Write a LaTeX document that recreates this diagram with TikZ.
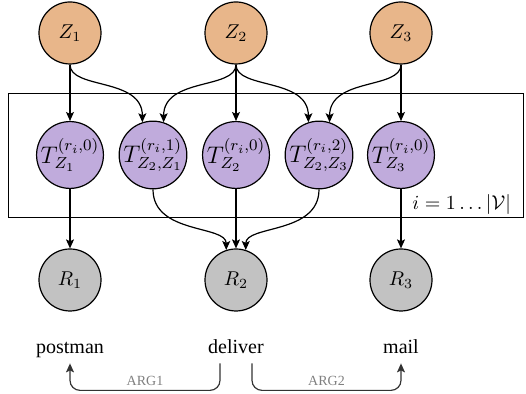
\documentclass[tikz,border=0pt]{standalone}
\usepackage[no-math]{fontspec}
\setmainfont{Liberation Serif}
\usetikzlibrary{arrows.meta}
\definecolor{zfill}{HTML}{E8B68A}
\definecolor{tfill}{HTML}{C0ABDC}
\definecolor{rfill}{HTML}{C2C2C2}
\begin{document}
\begin{tikzpicture}[x=0.5pt,y=0.5pt,>={Stealth[length=4.5pt,width=4pt,inset=1pt]},
  var/.style={circle,draw,line width=0.6pt,minimum size=31pt,inner sep=0pt,font=\fontsize{10}{12}\selectfont},
  zvar/.style={var,fill=zfill},
  tvar/.style={var,fill=tfill,font=\fontsize{12}{14}\selectfont},
  rvar/.style={var,fill=rfill},
  word/.style={anchor=base,inner sep=2pt,text depth=0.25em},
  dep/.style={->,line width=0.6pt},
  arg/.style={->,line width=0.6pt,draw=black!80,rounded corners=5pt},
  argtext/.style={font=\fontsize{7}{8}\selectfont,text=black!50,inner sep=2pt}]
\useasboundingbox (0,0) rectangle (526,394);
% plate
\draw[line width=0.5pt] (8,176) rectangle (523,300);
\node[anchor=east] (plate) at (518,189) {$i = 1 \ldots |\mathcal{V}|$};
% latent variables
\node[zvar] (z1) at (70,361) {$Z_1$};
\node[zvar] (z2) at (236,361) {$Z_2$};
\node[zvar] (z3) at (401,361) {$Z_3$};
\node[tvar] (t1) at (70,239) {$T^{(r_i,0)}_{Z_1}$};
\node[tvar] (t21) at (153,239) {$T^{(r_i,1)}_{Z_2,Z_1}$};
\node[tvar] (t2) at (236,239) {$T^{(r_i,0)}_{Z_2}$};
\node[tvar] (t23) at (319,239) {$T^{(r_i,2)}_{Z_2,Z_3}$};
\node[tvar] (t3) at (401,239) {$T^{(r_i,0)}_{Z_3}$};
\node[rvar] (r1) at (70,114) {$R_1$};
\node[rvar] (r2) at (236,114) {$R_2$};
\node[rvar] (r3) at (401,114) {$R_3$};
% words
\node[word] (w1) at (70,40) {postman};
\node[word] (w2) at (236,40) {deliver};
\node[word] (w3) at (401,40) {mail};
% dependencies
\draw[dep] (z1) -- (t1);
\draw[dep] (z1.south) .. controls +(0,-25) and +(0,45) .. (t21.108);
\draw[dep] (z2.south) .. controls +(0,-25) and +(0,45) .. (t21.72);
\draw[dep] (z2) -- (t2);
\draw[dep] (z2.south) .. controls +(0,-25) and +(0,45) .. (t23.108);
\draw[dep] (z3.south) .. controls +(0,-25) and +(0,45) .. (t23.72);
\draw[dep] (z3) -- (t3);
\draw[dep] (t1) -- (r1);
\draw[dep] (t21.south) .. controls +(0,-45) and +(0,25) .. (r2.108);
\draw[dep] (t2) -- (r2);
\draw[dep] (t23.south) .. controls +(0,-45) and +(0,25) .. (r2.72);
\draw[dep] (t3) -- (r3);
% arguments
\draw[arg] ([xshift=-8pt]w2.south) -- ++(0,-27) -| node[pos=0.25,above,argtext] {ARG1} (w1.south);
\draw[arg] ([xshift=8pt]w2.south) -- ++(0,-27) -| node[pos=0.25,above,argtext] {ARG2} (w3.south);
\end{tikzpicture}
\end{document}
